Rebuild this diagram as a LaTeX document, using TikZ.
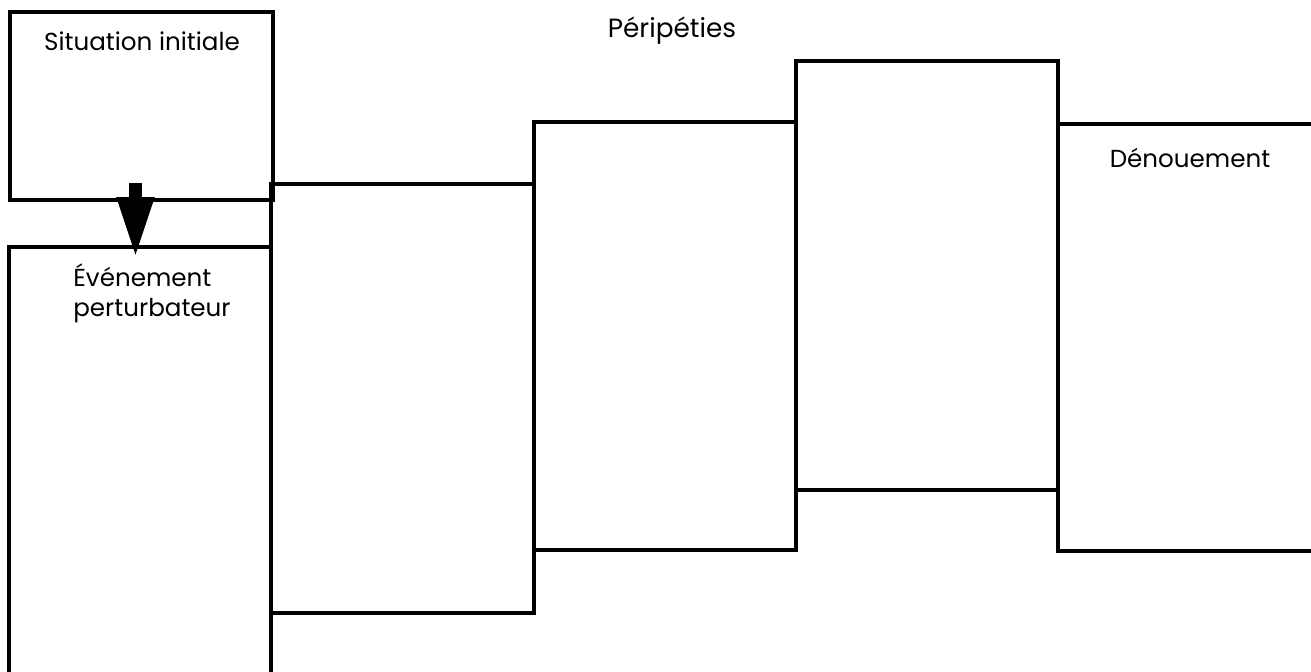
\documentclass[tikz,border=0pt]{standalone}
\usepackage{fontspec}
\setmainfont{Poppins}
\usetikzlibrary{arrows.meta}

\tikzset{
  panel/.style={line width=2pt, line join=miter},
  label/.style={font=\fontsize{14}{17}\selectfont, inner sep=0pt},
  bigarrow/.style={line width=0.27cm, -{Triangle[width=0.68cm,length=1.24cm]}}
}

\begin{document}
\begin{tikzpicture}[x=0.02cm, y=-0.02cm]
  \useasboundingbox (0,0) rectangle (1311,672);
  \clip (0,0) rectangle (1311,672);
  % situation initiale
  \coordinate (S1) at (10,12);
  \coordinate (S2) at (273,200);
  \draw[panel] (S1) rectangle (S2);
  \node[label] (sit) at (142,41) {Situation initiale};
  % evenement perturbateur
  \coordinate (E1) at (9,247);
  \coordinate (E2) at (271,700);
  \draw[panel] (E1) rectangle (E2);
  \node[label, align=left, anchor=north west] (evt) at (73,263) {Événement\\perturbateur};
  % peripeties, three steps
  \coordinate (P1) at (271,184);
  \coordinate (P2) at (534,613);
  \coordinate (Q1) at (534,122);
  \coordinate (Q2) at (796,550);
  \coordinate (R1) at (796,61);
  \coordinate (R2) at (1058,490);
  \draw[panel] (P1) rectangle (P2);
  \draw[panel] (Q1) rectangle (Q2);
  \draw[panel] (R1) rectangle (R2);
  \node[label, font=\fontsize{15}{18}\selectfont] (per) at (672,31) {Péripéties};
  % denouement
  \coordinate (D1) at (1058,124);
  \coordinate (D2) at (1340,551);
  \draw[panel] (D1) rectangle (D2);
  \node[label] (den) at (1190,158) {Dénouement};
  % arrow down
  \coordinate (A1) at (135.5,183);
  \coordinate (A2) at (135.5,259);
  \draw[bigarrow] (A1) -- (A2);
\end{tikzpicture}
\end{document}
